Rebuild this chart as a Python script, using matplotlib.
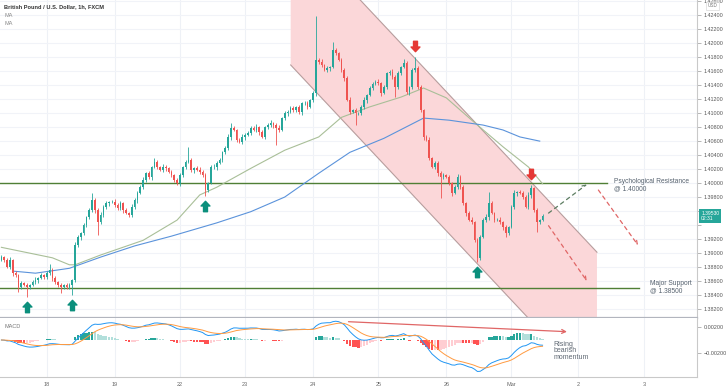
import numpy as np
import pandas as pd
import matplotlib
matplotlib.use('Agg')
import matplotlib.pyplot as plt
from matplotlib.path import Path
from matplotlib.transforms import offset_copy, blended_transform_factory

plt.rcParams['font.family'] = ['Liberation Sans', 'DejaVu Sans']

# hourly closes GBP/USD, 17 Feb - 1 Mar
closes = [
    1.3894, 1.3890, 1.3880, 1.3890, 1.3871, 1.3868, 1.3851, 1.3857, 1.3854, 1.3851, 1.3854, 1.3858,
    1.3861, 1.3864, 1.3868, 1.3865, 1.3871, 1.3876, 1.3864, 1.3858, 1.3854, 1.3851, 1.3854, 1.3851,
    1.3854, 1.3861, 1.3911, 1.3923, 1.3928, 1.3940, 1.3951, 1.3961, 1.3976, 1.3961, 1.3944, 1.3954,
    1.3966, 1.3971, 1.3973, 1.3973, 1.3969, 1.3964, 1.3971, 1.3961, 1.3957, 1.3954,
    1.3966, 1.3976, 1.3986, 1.3994, 1.4004, 1.4014, 1.4009, 1.4023, 1.4030, 1.4023, 1.4019, 1.4023,
    1.4021, 1.4016, 1.4011, 1.4004, 1.4000, 1.4011, 1.4023, 1.4030, 1.4033, 1.4019, 1.4021, 1.4019,
    1.4016, 1.4011, 1.3990, 1.4000, 1.4023, 1.4023, 1.4029, 1.4033, 1.4044, 1.4050, 1.4066, 1.4079,
    1.4076, 1.4062, 1.4059, 1.4066,
    1.4069, 1.4072, 1.4079, 1.4076, 1.4080, 1.4073, 1.4066, 1.4080, 1.4083, 1.4086, 1.4083, 1.4079,
    1.4076, 1.4093, 1.4100, 1.4102, 1.4107, 1.4104, 1.4109, 1.4102, 1.4114, 1.4114, 1.4109, 1.4119,
    1.4129, 1.4176, 1.4173, 1.4169, 1.4162, 1.4165, 1.4166, 1.4190, 1.4186, 1.4176, 1.4162, 1.4150,
    1.4119, 1.4102, 1.4104, 1.4100, 1.4100, 1.4109,
    1.4119, 1.4126, 1.4136, 1.4142, 1.4145, 1.4143, 1.4129, 1.4137, 1.4157, 1.4159, 1.4152, 1.4137,
    1.4157, 1.4166, 1.4172, 1.4130, 1.4137, 1.4162, 1.4165, 1.4137, 1.4104, 1.4066, 1.4062, 1.4036,
    1.4023, 1.4029, 1.4014, 1.4009, 1.4011, 1.4009, 1.4000, 1.3986, 1.3994, 1.4009, 1.3994, 1.3971,
    1.3957, 1.3947, 1.3944, 1.3918, 1.3893, 1.3923, 1.3947, 1.3951, 1.3971, 1.3957, 1.3947, 1.3947,
    1.3944, 1.3937, 1.3928, 1.3937, 1.3966, 1.3986, 1.3987, 1.3986, 1.3980, 1.3966, 1.3983, 1.3993,
    1.3961, 1.3944, 1.3947, 1.3953,
]
first_open = 1.3890

# wick lengths in pips
wick_up = [
    3, 2, 3, 4, 2, 3, 2, 3, 2, 3, 2, 3, 4, 2, 3, 2, 3, 8, 2, 3, 2, 3, 2, 3,
    3, 2, 4, 3, 2, 3, 2, 3, 10, 2, 3, 4, 2, 3, 2, 3, 4, 2, 3, 2, 3, 2, 4, 3,
    2, 3, 4, 2, 3, 2, 6, 3, 2, 4, 3, 2, 3, 2, 3, 4, 2, 3, 19, 3, 2, 3, 4, 2,
    3, 2, 3, 4, 2, 3, 2, 3, 4, 7, 3, 2, 3, 4, 2, 3, 2, 3, 4, 2, 3, 2, 3, 4,
    2, 3, 4, 2, 3, 2, 3, 4, 2, 3, 2, 3, 4, 2, 3, 63, 3, 4, 2, 3, 2, 12, 3, 2,
    3, 2, 3, 4, 2, 3, 2, 3, 4, 2, 3, 2, 3, 4, 2, 3, 2, 3, 4, 2, 3, 2, 5, 3,
    2, 3, 16, 2, 3, 2, 3, 4, 2, 3, 2, 3, 4, 2, 3, 2, 3, 4, 2, 3, 2, 3, 4, 2,
    3, 2, 3, 4, 16, 3, 2, 3, 4, 2, 3, 2, 3, 4, 2, 3, 2, 3, 4, 4, 2, 3, 2, 3,
]
wick_dn = [
    2, 3, 2, 3, 4, 2, 7, 3, 2, 14, 3, 2, 3, 4, 2, 3, 2, 3, 4, 2, 3, 8, 2, 3,
    3, 14, 2, 3, 4, 2, 3, 2, 3, 4, 18, 3, 2, 3, 4, 2, 3, 2, 3, 4, 2, 3, 2, 3,
    4, 2, 3, 2, 3, 4, 2, 3, 2, 3, 4, 2, 3, 2, 3, 4, 2, 3, 2, 3, 4, 2, 3, 2,
    9, 3, 2, 3, 4, 2, 3, 2, 3, 4, 2, 3, 2, 3, 4, 2, 3, 2, 3, 4, 2, 3, 2, 3,
    4, 25, 3, 2, 3, 4, 2, 3, 2, 3, 4, 2, 3, 2, 3, 4, 2, 3, 2, 3, 4, 2, 3, 2,
    3, 4, 2, 3, 2, 17, 3, 2, 3, 4, 2, 3, 2, 3, 4, 2, 3, 2, 3, 14, 2, 3, 2, 3,
    4, 2, 3, 2, 3, 4, 2, 3, 2, 3, 4, 30, 3, 2, 3, 4, 2, 3, 2, 3, 4, 2, 3, 2,
    6, 3, 2, 3, 4, 2, 3, 2, 3, 4, 5, 3, 2, 3, 4, 2, 3, 2, 3, 4, 2, 14, 3, 2,
]

# moving averages (bar index, value)
ma_fast_bar = [0, 18, 24, 26, 35, 50, 62, 70, 76, 88, 100, 112, 120, 130, 141, 149, 157, 166, 177, 186, 191]
ma_fast = [1.3908, 1.3893, 1.3883, 1.3883, 1.3897, 1.3918, 1.3947, 1.3983, 1.3994, 1.4021, 1.4047,
           1.4066, 1.4094, 1.4109, 1.4123, 1.4136, 1.4122, 1.4090, 1.4052, 1.4023, 1.3999]
ma_slow_bar = [4, 12, 24, 35, 47, 60, 76, 88, 100, 112, 123, 135, 149, 158, 170, 177, 183, 190]
ma_slow = [1.3874, 1.3871, 1.3878, 1.3894, 1.3910, 1.3924, 1.3943, 1.3959, 1.3980, 1.4014, 1.4044,
           1.4064, 1.4093, 1.4090, 1.4083, 1.4076, 1.4066, 1.4060]

day_labels = ['18', '19', '22', '23', '24', '25', '26', 'Mar', '2', '3']
day_start = [16, 40, 63, 86, 110, 133, 157, 180]

# drawings
chan_x = [102.1, 210.2]
chan_top = [1.4368, 1.3901]
chan_bot = [1.4169, 1.3702]
resistance, res_end = 1.40000, 213.7
support, sup_end = 1.38500, 225.0
up_arrows = [9, 25, 72, 168]
down_arrows = [146, 187]
proj_green = [(193.1, 1.3957), (206.6, 1.3998)]
proj_red = [[(210.7, 1.3990), (224.7, 1.3911)], [(193.1, 1.3939), (206.6, 1.3860)]]
macd_arrow = [(122.5, 0.00275), (199.6, 0.00125)]

GREEN = '#26a69a'
RED = '#ef5350'

c = np.array(closes)
o = np.r_[first_open, c[:-1]]
hi = np.maximum(o, c) + np.array(wick_up) * 1e-4
lo = np.minimum(o, c) - np.array(wick_dn) * 1e-4
x = np.arange(len(c))
col = np.where(c >= o, GREEN, RED)

fig = plt.figure(figsize=(7.28, 3.9), dpi=100)
ax = fig.add_axes([0, 0.1838, 0.9574, 0.8162])
axm = fig.add_axes([0, 0.0341, 0.9574, 0.1497], sharex=ax)

# day positions incl. future days
per_day = (day_start[-1] - day_start[0]) / (len(day_start) - 1)
day_pos = day_start + [day_start[-1] + per_day * k for k in (1, 2)]

for a in (ax, axm):
    for d in day_pos:
        a.axvline(d, color='#eef1f6', lw=0.8, zorder=0)

yt = np.arange(1.382, 1.4261, 0.002)
for v in yt:
    ax.axhline(v, color='#f1f3f8', lw=0.8, zorder=0)

# channel
ax.fill([chan_x[0], chan_x[1], chan_x[1], chan_x[0]],
        [chan_top[0], chan_top[1], chan_bot[1], chan_bot[0]],
        color='#fbd7d9', zorder=0.5, lw=0)
ax.plot(chan_x, chan_top, color='#b79d9d', lw=0.8, zorder=1)
ax.plot(chan_x, chan_bot, color='#b79d9d', lw=0.8, zorder=1)

# levels
ax.plot([-0.5, res_end], [resistance, resistance], color='#4f7f35', lw=1.0, zorder=2)
ax.plot([-0.5, sup_end], [support, support], color='#4f7f35', lw=1.0, zorder=2)

# MAs
ax.plot(ma_fast_bar, ma_fast, color='#a9bf98', lw=0.8, zorder=2)
ax.plot(ma_slow_bar, ma_slow, color='#5b93db', lw=0.8, zorder=2)

# candles
ax.vlines(x, lo, hi, color=col, lw=0.6, zorder=3)
body = np.maximum(np.abs(c - o), 0.00005)
ax.bar(x, body, bottom=np.minimum(o, c), width=0.62, color=col, lw=0, zorder=4)

# arrows
up_path = Path([(0, 1), (0.85, 0.1), (0.38, 0.1), (0.38, -1), (-0.38, -1), (-0.38, 0.1),
                (-0.85, 0.1), (0, 1)], closed=True)
dn_path = Path([(px, -py) for px, py in up_path.vertices], closed=True)
tr_up = offset_copy(ax.transData, fig=fig, y=-10, units='dots')
tr_dn = offset_copy(ax.transData, fig=fig, y=11, units='dots')
ax.plot(up_arrows, lo[up_arrows], ls='none', marker=up_path, ms=7.5, color='#0b8f7c',
        transform=tr_up, zorder=5)
ax.plot(down_arrows, hi[down_arrows], ls='none', marker=dn_path, ms=7.5, color='#e53935',
        transform=tr_dn, zorder=5)

# projections
dash = dict(arrowstyle='->', linestyle=(0, (3, 3)), lw=0.9, mutation_scale=6, shrinkA=0, shrinkB=0)
ax.annotate('', xy=proj_green[1], xytext=proj_green[0],
            arrowprops=dict(color='#5d7d62', **dash), zorder=5)
for p in proj_red:
    ax.annotate('', xy=p[1], xytext=p[0], arrowprops=dict(color='#e06666', **dash), zorder=5)

txt = dict(color='#56626f', fontsize=4.8, linespacing=0.95, va='center', ha='left')
ax.text(216.2, 1.3997, 'Psychological Resistance\n@ 1.40000', **txt)
ax.text(228.9, 1.3851, 'Major Support\n@ 1.38500', **txt)

ax.set_xlim(-0.5, 245.5)
ax.set_ylim(1.38064, 1.42620)
ax.yaxis.tick_right()
ax.set_yticks(yt)
# labels under the last-price tag are hidden, as on the chart
hidden = (1.394, 1.396)
ax.set_yticklabels(['' if any(abs(v - h) < 1e-6 for h in hidden) else '%.5f' % v for v in yt])
ax.tick_params(axis='y', labelsize=3.9, colors='#9a9a9a', labelcolor='#555555', length=3, width=0.5, pad=2)
ax.tick_params(axis='x', bottom=False, labelbottom=False)
for s in ('top', 'left'):
    ax.spines[s].set_visible(False)
ax.spines['right'].set_color('#c9c9c9')
ax.spines['right'].set_linewidth(0.8)
ax.spines['bottom'].set_color('#b2b5be')
ax.spines['bottom'].set_linewidth(1.6)

# last price tag
bt = blended_transform_factory(ax.transAxes, ax.transData)
ax.text(1.006, c[-1], '%.5f\n02:31' % c[-1], transform=bt, fontsize=3.6, color='white',
        va='center', ha='left', linespacing=1.0, clip_on=False,
        bbox=dict(boxstyle='square,pad=0.35', fc=GREEN, ec='none'), zorder=6)

# MACD
s = pd.Series(c)
macd = s.ewm(span=12, adjust=False).mean() - s.ewm(span=26, adjust=False).mean()
signal = macd.ewm(span=9, adjust=False).mean()
hist = (macd - signal).values
prev = np.r_[hist[0], hist[:-1]]
hcol = np.where(hist >= 0, np.where(hist >= prev, '#26a69a', '#b2dfdb'),
                np.where(hist < prev, '#ff5252', '#ffcdd2'))
axm.bar(x, hist, width=0.8, color=hcol, lw=0, zorder=2)
axm.plot(x, macd, color='#2196f3', lw=0.7, zorder=3)
axm.plot(x, signal, color='#ff9a40', lw=0.7, zorder=3)
axm.annotate('', xy=macd_arrow[1], xytext=macd_arrow[0],
             arrowprops=dict(arrowstyle='->', color='#e06666', lw=0.9, mutation_scale=7,
                             shrinkA=0, shrinkB=0), zorder=4)
axm.text(194.7, -0.00165, 'Rising\nbearish\nmomentum', color='#5f6873', fontsize=5.0,
         linespacing=0.95, va='center', ha='left')

axm.set_ylim(-0.00552, 0.00326)
axm.yaxis.tick_right()
axm.set_yticks([0.002, -0.002])
axm.set_yticklabels(['0.00200', '\u22120.00200'])
axm.tick_params(axis='y', labelsize=3.9, colors='#9a9a9a', labelcolor='#555555', length=3, width=0.5, pad=2)
axm.set_xticks(day_pos)
axm.set_xticklabels(day_labels)
axm.tick_params(axis='x', labelsize=4.0, labelcolor='#666666', length=0, pad=4)
for s_ in ('top', 'left'):
    axm.spines[s_].set_visible(False)
axm.spines['right'].set_color('#c9c9c9')
axm.spines['right'].set_linewidth(0.8)
axm.spines['bottom'].set_color('#c9c9c9')
axm.spines['bottom'].set_linewidth(0.8)

# header texts
fig.text(0.006, 0.982, 'British Pound / U.S. Dollar, 1h, FXCM', fontsize=4.1, weight='bold',
         color='#333333', va='center')
fig.text(0.006, 0.961, 'MA', fontsize=4.0, color='#8a8a8a', va='center')
fig.text(0.006, 0.940, 'MA', fontsize=4.0, color='#8a8a8a', va='center')
fig.text(0.006, 0.162, 'MACD', fontsize=4.0, color='#777777', va='center')
fig.text(0.979, 0.985, 'USD', fontsize=3.3, color='#777777', va='center', ha='center',
         bbox=dict(boxstyle='square,pad=0.3', fc='white', ec='#d0d0d0', lw=0.4))

fig.savefig('out.png', dpi=100, facecolor='white')
